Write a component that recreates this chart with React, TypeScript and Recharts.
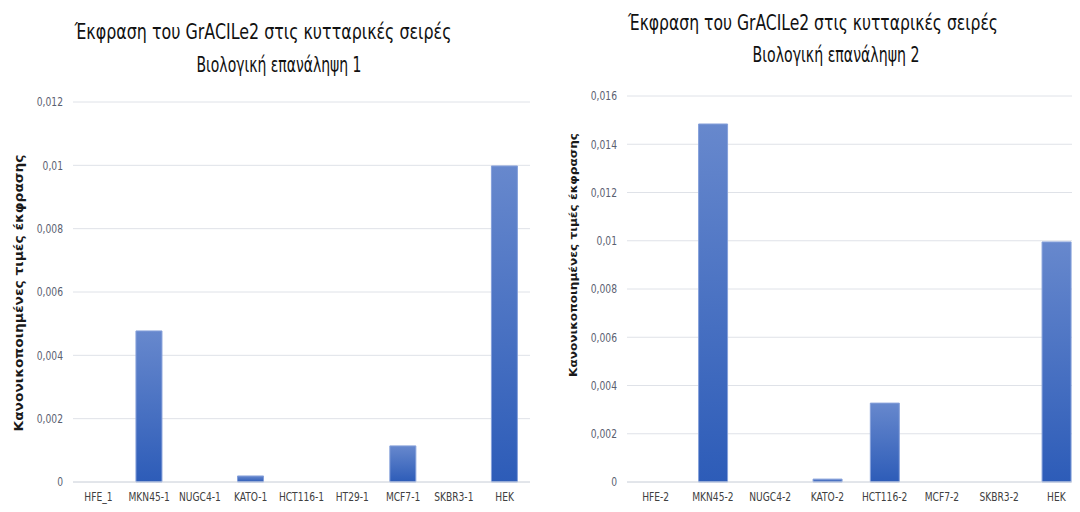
import React from "react";
import { BarChart, Bar, XAxis, YAxis, CartesianGrid } from "recharts";

// Replicate 1
const cellLines1 = ["HFE_1", "MKN45-1", "NUGC4-1", "KATO-1", "HCT116-1", "HT29-1", "MCF7-1", "SKBR3-1", "HEK"];
const expression1 = [0, 0.00477, 0, 0.00019, 0, 0, 0.00114, 0, 0.00998];
const ticks1 = [0, 0.002, 0.004, 0.006, 0.008, 0.01, 0.012];

// Replicate 2
const cellLines2 = ["HFE-2", "MKN45-2", "NUGC4-2", "KATO-2", "HCT116-2", "MCF7-2", "SKBR3-2", "HEK"];
const expression2 = [0, 0.01484, 0, 0.00012, 0.00327, 0, 0, 0.00995];
const ticks2 = [0, 0.002, 0.004, 0.006, 0.008, 0.01, 0.012, 0.014, 0.016];

const titleLine1 = "Έκφραση του GrACILe2 στις κυτταρικές σειρές";
const titleLine2a = "Βιολογική επανάληψη 1";
const titleLine2b = "Βιολογική επανάληψη 2";
const yAxisTitle = "Κανονικοποιημένες τιμές έκφρασης";

const data1 = cellLines1.map((name, i) => ({ name, value: expression1[i] }));
const data2 = cellLines2.map((name, i) => ({ name, value: expression2[i] }));

const FONT = '"DejaVu Sans Condensed", "Liberation Sans", sans-serif';

const fmt = (v: number) => (v === 0 ? "0" : String(v).replace(".", ","));

const GradientDefs = ({ id }: { id: string }) => (
  <defs>
    <linearGradient id={id} x1="0" y1="0" x2="0" y2="1">
      <stop offset="0%" stopColor="#6788cd" />
      <stop offset="100%" stopColor="#2d5cb8" />
    </linearGradient>
  </defs>
);

// Category label, drawn horizontally condensed
const CategoryTick = (props: any) => {
  const { x, y, payload } = props;
  return (
    <g transform={`translate(${x},${y})`}>
      <text
        transform="scale(0.78,1)"
        textAnchor="middle"
        dy="0.71em"
        fill="#404040"
        fontSize={13}
        fontFamily={FONT}
      >
        {payload.value}
      </text>
    </g>
  );
};

// Value label, drawn horizontally condensed, right-aligned
const ValueTick = (props: any) => {
  const { x, y, payload } = props;
  return (
    <g transform={`translate(${x},${y})`}>
      <text
        transform="scale(0.85,1)"
        textAnchor="end"
        dy="0.355em"
        fill="#5a6070"
        fontSize={12}
        fontFamily={FONT}
      >
        {fmt(payload.value)}
      </text>
    </g>
  );
};

export default function App() {
  return (
    <div
      style={{
        position: "relative",
        width: 1080,
        height: 512,
        margin: -8,
        overflow: "hidden",
        background: "#ffffff",
      }}
    >
      <div style={{ position: "absolute", left: 0, top: 0 }}>
        <BarChart
          width={540}
          height={512}
          data={data1}
          margin={{ top: 102, right: 10, bottom: 0, left: 28 }}
          barCategoryGap="24%"
        >
          <GradientDefs id="barFill1" />
          <CartesianGrid vertical={false} stroke="#dfe2e8" strokeWidth={1} />
          <XAxis
            dataKey="name"
            height={30}
            axisLine={{ stroke: "#d6dae2" }}
            tickLine={false}
            tickMargin={4}
            tick={<CategoryTick />}
            interval={0}
          />
          <YAxis
            width={45}
            domain={[0, 0.012]}
            ticks={ticks1}
            axisLine={false}
            tickLine={false}
            tickMargin={4}
            tick={<ValueTick />}
          />
          <Bar dataKey="value" fill="url(#barFill1)" stroke="#86a0da" strokeWidth={1} isAnimationActive={false} />
        </BarChart>
      </div>

      <div style={{ position: "absolute", left: 540, top: 0 }}>
        <BarChart
          width={550}
          height={512}
          data={data2}
          margin={{ top: 96, right: 5, bottom: 0, left: 40 }}
          barCategoryGap="25%"
        >
          <GradientDefs id="barFill2" />
          <CartesianGrid vertical={false} stroke="#dfe2e8" strokeWidth={1} />
          <XAxis
            dataKey="name"
            height={30}
            axisLine={{ stroke: "#d6dae2" }}
            tickLine={false}
            tickMargin={4}
            tick={<CategoryTick />}
            interval={0}
          />
          <YAxis
            width={47}
            domain={[0, 0.016]}
            ticks={ticks2}
            axisLine={false}
            tickLine={false}
            tickMargin={4}
            tick={<ValueTick />}
          />
          <Bar dataKey="value" fill="url(#barFill2)" stroke="#86a0da" strokeWidth={1} isAnimationActive={false} />
        </BarChart>
      </div>

      {/* Chart titles and axis titles */}
      <svg
        width={1080}
        height={512}
        style={{ position: "absolute", left: 0, top: 0, pointerEvents: "none" }}
      >
        <g fontFamily={FONT} fill="#111111" fontSize={22}>
          <text x={263} y={39} textAnchor="middle" textLength={377} lengthAdjust="spacingAndGlyphs">
            {titleLine1}
          </text>
          <text x={279} y={72} textAnchor="middle" textLength={165} lengthAdjust="spacingAndGlyphs">
            {titleLine2a}
          </text>
          <text x={813} y={30} textAnchor="middle" textLength={370} lengthAdjust="spacingAndGlyphs">
            {titleLine1}
          </text>
          <text x={836} y={62} textAnchor="middle" textLength={167} lengthAdjust="spacingAndGlyphs">
            {titleLine2b}
          </text>
        </g>
        <text
          transform="translate(23,293) rotate(-90)"
          textAnchor="middle"
          fontFamily={FONT}
          fontWeight="bold"
          fontSize={12}
          fill="#1a1a1a"
          textLength={277}
          lengthAdjust="spacingAndGlyphs"
        >
          {yAxisTitle}
        </text>
        <text
          transform="translate(577,255) rotate(-90)"
          textAnchor="middle"
          fontFamily={FONT}
          fontWeight="bold"
          fontSize={11}
          fill="#1a1a1a"
          textLength={244}
          lengthAdjust="spacingAndGlyphs"
        >
          {yAxisTitle}
        </text>
      </svg>
    </div>
  );
}
